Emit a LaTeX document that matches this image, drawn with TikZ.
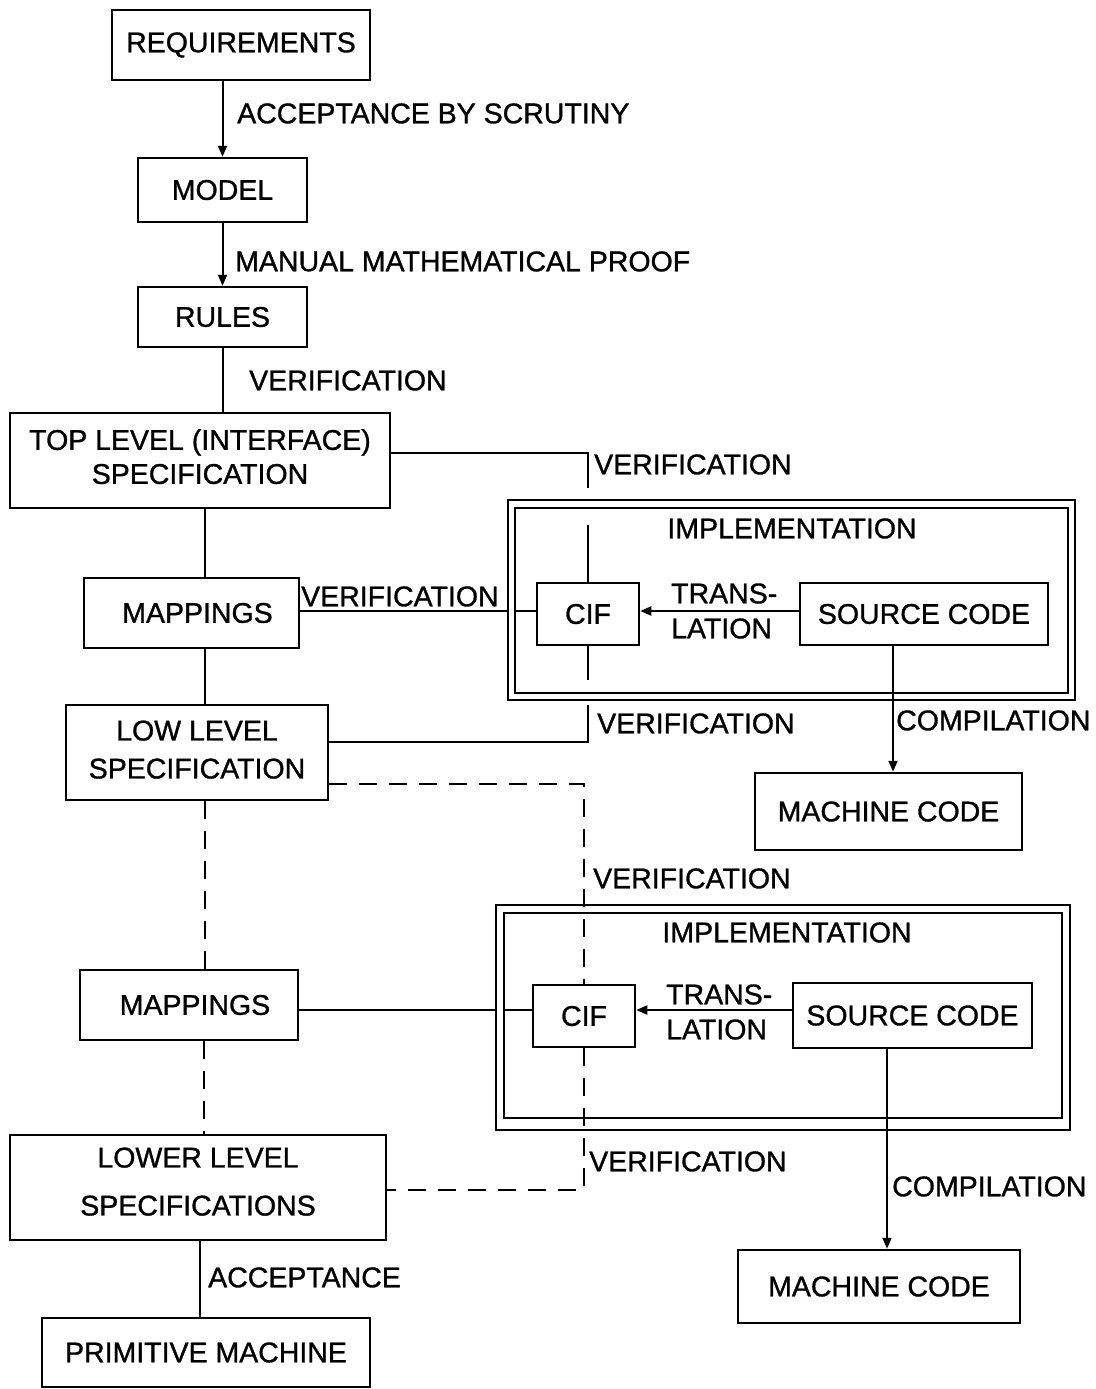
\documentclass[tikz,border=0pt]{standalone}
\usepackage{fontspec}
\setmainfont{Liberation Sans}[FakeBold=1]
\usetikzlibrary{arrows.meta}
\newcommand\diagfont{\fontsize{28.5}{33}\selectfont}
\begin{document}
\begin{tikzpicture}[x=1pt,y=-1pt,
  box/.style={draw, line width=2.5pt, inner sep=0pt, align=center, font=\diagfont},
  frame/.style={draw, line width=2.5pt, inner sep=0pt},
  conn/.style={line width=2pt},
  arr/.style={conn, -{Triangle[length=11pt,width=9pt]}},
  dsh/.style={line width=2pt, dash pattern=on 18pt off 12pt},
  lbl/.style={font=\diagfont, inner sep=0pt, anchor=west, text height=20.5pt, text depth=0pt},
  two/.style={font=\diagfont, inner sep=0pt, anchor=west, align=left}]
\useasboundingbox (0,0) rectangle (1095,1389);
% left column
\node[box, minimum width=258pt, minimum height=70pt] (req) at (241,45) {REQUIREMENTS};
\node[box, minimum width=169pt, minimum height=64pt] (model) at (222.5,190) {MODEL};
\node[box, minimum width=169pt, minimum height=60pt] (rules) at (222.5,317) {RULES};
\node[box, minimum width=380pt, minimum height=95pt] (top) at (200,460.5) {TOP LEVEL (INTERFACE)\\[1pt]SPECIFICATION\\[-25pt]};
\node[box, minimum width=215pt, minimum height=70pt] (map1) at (191.5,613) {\hspace*{12pt}MAPPINGS};
\node[box, minimum width=262pt, minimum height=95pt] (low) at (197,752.5) {LOW LEVEL\\[5pt]SPECIFICATION\\[-27pt]};
\node[box, minimum width=218pt, minimum height=70pt] (map2) at (189,1005) {\hspace*{12pt}MAPPINGS};
\node[box, minimum width=376pt, minimum height=105pt] (lower) at (198,1187.5) {LOWER LEVEL\\[15pt]SPECIFICATIONS\\[-21pt]};
\node[box, minimum width=328pt, minimum height=69pt] (prim) at (206,1352.5) {PRIMITIVE MACHINE};
% implementation 1
\node[frame, minimum width=567pt, minimum height=200pt] (impl1o) at (791.5,600) {};
\node[frame, minimum width=553pt, minimum height=185pt] (impl1i) at (791.5,600.5) {};
\node[lbl, anchor=center] (implt1) at (792,528) {IMPLEMENTATION};
\node[box, minimum width=102pt, minimum height=62pt] (cif1) at (588,614) {CIF};
\node[box, minimum width=248pt, minimum height=62pt] (src1) at (924,614) {SOURCE CODE};
\node[box, minimum width=267pt, minimum height=77pt] (mc1) at (888.5,811.5) {MACHINE CODE};
% implementation 2
\node[frame, minimum width=574pt, minimum height=225pt] (impl2o) at (783,1017.5) {};
\node[frame, minimum width=558pt, minimum height=205pt] (impl2i) at (783,1015.5) {};
\node[lbl, anchor=center] (implt2) at (787,932) {IMPLEMENTATION};
\node[box, minimum width=102pt, minimum height=62pt] (cif2) at (584,1016) {CIF};
\node[box, minimum width=239pt, minimum height=65pt] (src2) at (912.5,1015.5) {SOURCE CODE};
\node[box, minimum width=282pt, minimum height=73pt] (mc2) at (879,1286.5) {MACHINE CODE};
% coordinates
\coordinate (c1) at (205,0);
\coordinate (c2) at (204,0);
\coordinate (c3) at (200,0);
\coordinate (tv) at (588,453);
\coordinate (tvend) at (588,488);
\coordinate (iv1) at (588,525);
\coordinate (iv2) at (588,680);
\coordinate (mv1) at (0,611);
\coordinate (k1) at (893,0);
\coordinate (lv) at (588,742);
\coordinate (lvend) at (588,705);
\coordinate (dv) at (584,784);
\coordinate (dv2) at (584,1190);
\coordinate (mv2) at (0,1010);
\coordinate (k2) at (887,0);
% top chain
\draw[arr] (req.south -| model.north) -- (model.north);
\node[lbl] at (237,113) {ACCEPTANCE BY SCRUTINY};
\draw[arr] (model.south) -- (rules.north);
\node[lbl] at (235,261) {MANUAL MATHEMATICAL PROOF};
\draw[conn] (rules.south) -- (rules.south |- top.north);
\node[lbl] at (249,380) {VERIFICATION};
% verification from top level
\draw[conn] (top.east |- tv) -- (tv) -- (tvend);
\node[lbl] at (594,464) {VERIFICATION};
\draw[conn] (iv1) -- (cif1.north);
\draw[conn] (cif1.south) -- (iv2);
% top -> mappings -> low
\draw[conn] (top.south -| c1) -- (map1.north -| c1);
\draw[conn] (map1.south -| c1) -- (low.north -| c1);
% mappings 1 -> CIF
\draw[conn] (map1.east |- mv1) -- (impl1o.west |- mv1);
\draw[conn] (impl1i.west |- mv1) -- (cif1.west |- mv1);
\node[lbl] at (301,596) {VERIFICATION};
% translation 1
\draw[arr] (src1.west |- mv1) -- (cif1.east |- mv1);
\node[two] at (671,611) {TRANS-\\[2pt]LATION};
% compilation 1
\draw[arr] (src1.south -| k1) -- (mc1.north -| k1);
\node[lbl] at (896,720) {COMPILATION};
% low level verification
\draw[conn] (low.east |- lv) -- (lv) -- (lvend);
\node[lbl] at (597,723) {VERIFICATION};
% dashed verification
\draw[dsh] (low.east |- dv) -- (dv) -- (cif2.north -| dv);
\node[lbl] at (593,878) {VERIFICATION};
\draw[dsh] (cif2.south -| dv2) -- (dv2) -- (lower.east |- dv2);
\node[lbl] at (589,1161) {VERIFICATION};
\draw[dsh] (low.south -| c1) -- (map2.north -| c1);
\draw[dsh] (map2.south -| c2) -- (lower.north -| c2);
% mappings 2 -> CIF
\draw[conn] (map2.east |- mv2) -- (impl2o.west |- mv2);
\draw[conn] (impl2i.west |- mv2) -- (cif2.west |- mv2);
% translation 2
\draw[arr] (src2.west |- mv2) -- (cif2.east |- mv2);
\node[two] at (666,1012) {TRANS-\\[2pt]LATION};
% compilation 2
\draw[arr] (src2.south -| k2) -- (mc2.north -| k2);
\node[lbl] at (892,1186) {COMPILATION};
% acceptance
\draw[conn] (lower.south -| c3) -- (prim.north -| c3);
\node[lbl] at (208,1277) {ACCEPTANCE};
\end{tikzpicture}
\end{document}
